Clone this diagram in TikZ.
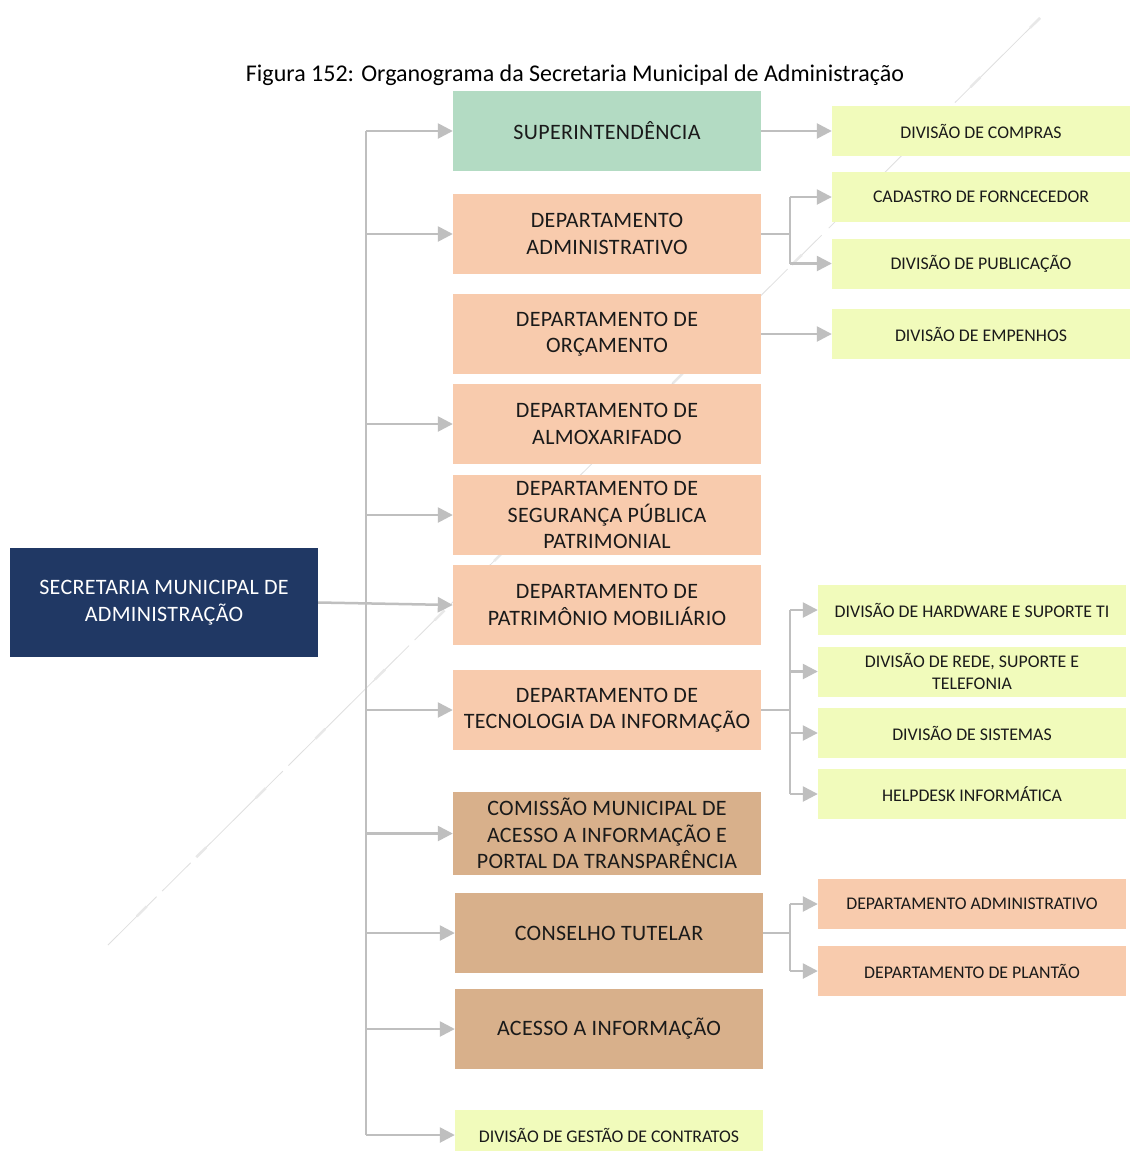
\documentclass[tikz,border=0pt]{standalone}
\usepackage{fontspec}
\setmainfont{Carlito}
\newfontfamily\boxfont[LetterSpace=1.5]{Carlito}
\usetikzlibrary{arrows.meta}
\definecolor{navy}{HTML}{203864}
\definecolor{mint}{HTML}{B3DBC3}
\definecolor{peach}{HTML}{F8CBAD}
\definecolor{tan}{HTML}{D8B08B}
\definecolor{lime}{HTML}{F1FBBB}
\definecolor{wire}{HTML}{BFBFBF}
\definecolor{ink}{HTML}{1A1A1A}
\begin{document}
\begin{tikzpicture}[x=1pt,y=-1pt,
  box/.style={rectangle,inner sep=0pt,draw=none,align=center,text=ink},
  big/.style={box,minimum width=308pt,minimum height=80pt,
    font=\boxfont\fontsize{22}{26.5}\selectfont},
  small/.style={box,minimum height=50pt,
    font=\fontsize{17.8}{22}\selectfont},
  wline/.style={draw=wire,line width=2.5pt},
  arr/.style={wline,-{Triangle[length=15pt,width=15pt]}},
  faint/.style={draw=gray!25,line width=0.8pt}]
\useasboundingbox (0,0) rectangle (1130,1151);
\fill[white] (0,0) rectangle (1130,1151);

% faint diagonal stroke behind the chart
\draw[faint,dash pattern=on 120pt off 10pt on 40pt off 8pt] (1040,18) -- (108,945);
\draw[draw=gray!18,line width=2.5pt,dash pattern=on 14pt off 70pt] (1040,18) -- (108,945);

% title
\node[font=\fontsize{24}{28}\selectfont] (title) at (575,75)
  {Figura 152: Organograma da Secretaria Municipal de Administração};

% root
\node[box,fill=navy,text=white,minimum width=308pt,minimum height=109pt,
  font=\boxfont\fontsize{22}{27}\selectfont] (sec) at (164,602.5)
  {SECRETARIA MUNICIPAL DE\\ADMINISTRAÇÃO};

% main column
\node[big,fill=mint]  (sup) at (607,131) {SUPERINTENDÊNCIA};
\node[big,fill=peach] (adm) at (607,234) {DEPARTAMENTO\\ADMINISTRATIVO};
\node[big,fill=peach] (orc) at (607,334) {DEPARTAMENTO DE\\ORÇAMENTO};
\node[big,fill=peach] (alm) at (607,424) {DEPARTAMENTO DE\\ALMOXARIFADO};
\node[big,fill=peach] (seg) at (607,515) {DEPARTAMENTO DE\\SEGURANÇA PÚBLICA\\PATRIMONIAL};
\node[big,fill=peach] (pat) at (607,605) {DEPARTAMENTO DE\\PATRIMÔNIO MOBILIÁRIO};
\node[big,fill=peach] (tec) at (607,710) {DEPARTAMENTO DE\\TECNOLOGIA DA INFORMAÇÃO};
\node[big,fill=tan,minimum height=83pt] (com) at (607,833.5)
  {COMISSÃO MUNICIPAL DE\\ACESSO A INFORMAÇÃO E\\PORTAL DA TRANSPARÊNCIA};
\node[big,fill=tan] (con) at (609,933) {CONSELHO TUTELAR};
\node[big,fill=tan] (ace) at (609,1029) {ACESSO A INFORMAÇÃO};
\node[small,fill=lime,minimum width=308pt] (ges) at (609,1135) {DIVISÃO DE GESTÃO DE CONTRATOS};

% right column, upper group
\node[small,fill=lime,minimum width=298pt] (dcomp) at (981,131) {DIVISÃO DE COMPRAS};
\node[small,fill=lime,minimum width=298pt] (dcad)  at (981,197) {CADASTRO DE FORNCECEDOR};
\node[small,fill=lime,minimum width=298pt] (dpub)  at (981,263.5) {DIVISÃO DE PUBLICAÇÃO};
\node[small,fill=lime,minimum width=298pt] (demp)  at (981,334) {DIVISÃO DE EMPENHOS};

% right column, lower group
\node[small,fill=lime,minimum width=308pt] (dhw)   at (972,610) {DIVISÃO DE HARDWARE E SUPORTE TI};
\node[small,fill=lime,minimum width=308pt] (drede) at (972,671.5) {DIVISÃO DE REDE, SUPORTE E\\TELEFONIA};
\node[small,fill=lime,minimum width=308pt] (dsis)  at (972,733) {DIVISÃO DE SISTEMAS};
\node[small,fill=lime,minimum width=308pt] (dhelp) at (972,794) {HELPDESK INFORMÁTICA};
\node[small,fill=peach,minimum width=308pt] (dadm) at (972,904) {DEPARTAMENTO ADMINISTRATIVO};
\node[small,fill=peach,minimum width=308pt] (dplan) at (972,971) {DEPARTAMENTO DE PLANTÃO};

% trunk and branch points
\coordinate (tr) at (366,0);
\coordinate (ba) at (790,0);
\draw[wline] (sup.west -| tr) -- (ges.west -| tr);
\foreach \n in {sup,adm,alm,seg,tec,com,con,ace,ges}
  \draw[arr] (\n.west -| tr) -- (\n.west);
\draw[arr] (sec.east) -- (pat.west);

% second level
\draw[arr] (sup.east) -- (dcomp.west);
\draw[arr] (orc.east) -- (demp.west);
\draw[wline] (adm.east) -- (adm.east -| ba);
\draw[wline] (dcad.west -| ba) -- (dpub.west -| ba);
\foreach \n in {dcad,dpub} \draw[arr] (\n.west -| ba) -- (\n.west);
\draw[wline] (tec.east) -- (tec.east -| ba);
\draw[wline] (dhw.west -| ba) -- (dhelp.west -| ba);
\foreach \n in {dhw,drede,dsis,dhelp} \draw[arr] (\n.west -| ba) -- (\n.west);
\draw[wline] (con.east) -- (con.east -| ba);
\draw[wline] (dadm.west -| ba) -- (dplan.west -| ba);
\foreach \n in {dadm,dplan} \draw[arr] (\n.west -| ba) -- (\n.west);
\end{tikzpicture}
\end{document}
